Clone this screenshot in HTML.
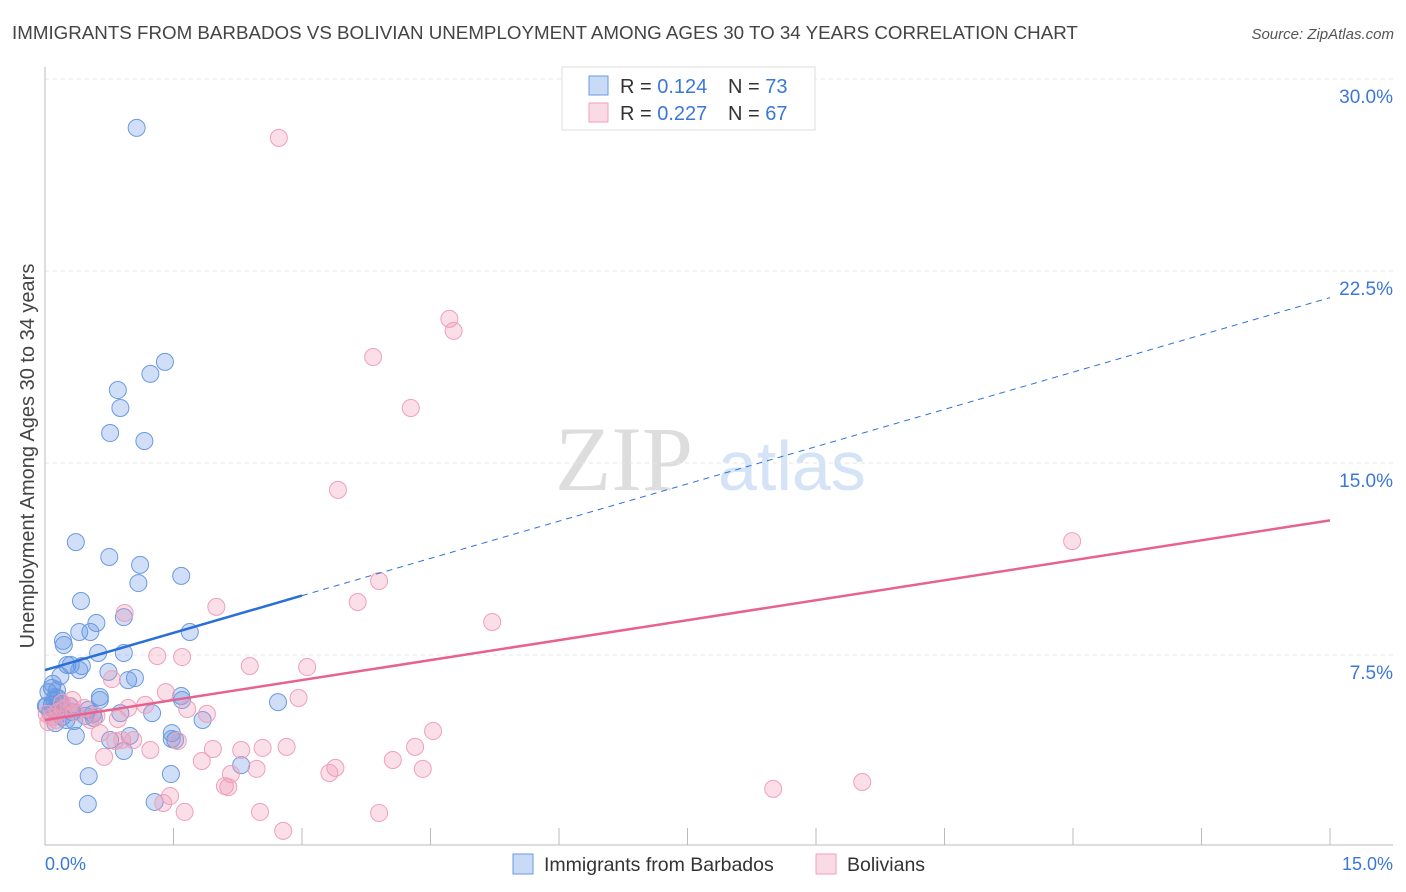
<!DOCTYPE html>
<html><head><meta charset="utf-8"><style>
body{margin:0;background:#fff;font-family:"Liberation Sans",sans-serif;}
svg{display:block}
</style></head><body>
<svg id="chart" width="1406" height="892" viewBox="0 0 1406 892">
<text x="12" y="39" font-size="18.75" fill="#444">IMMIGRANTS FROM BARBADOS VS BOLIVIAN UNEMPLOYMENT AMONG AGES 30 TO 34 YEARS CORRELATION CHART</text>
<text x="1394" y="39" font-size="15" fill="#555" text-anchor="end" font-style="italic">Source: ZipAtlas.com</text>
<g>
<text x="555" y="490" font-size="92" fill="#ddd" font-family="Liberation Serif,serif">ZIP</text>
<text x="718" y="490" font-size="70" fill="#d4e3f5">atlas</text>
</g>
<g id="grid"></g>
<g id="axes"></g>
<g id="marks"></g>
<g id="trends"></g>
<g>
<rect x="562" y="67" width="253" height="63" fill="#fff" stroke="#ddd"/>
<rect x="589" y="76" width="19" height="19" fill="rgba(100,150,230,0.35)" stroke="#6a9ae0"/>
<rect x="589" y="103" width="19" height="19" fill="rgba(240,150,180,0.35)" stroke="#f0a0b8"/>
<text x="620" y="93" font-size="20" fill="#333">R = <tspan fill="#3a78d8">0.124</tspan></text>
<text x="728" y="93" font-size="20" fill="#333">N = <tspan fill="#3a78d8">73</tspan></text>
<text x="620" y="120" font-size="20" fill="#333">R = <tspan fill="#3a78d8">0.227</tspan></text>
<text x="728" y="120" font-size="20" fill="#333">N = <tspan fill="#3a78d8">67</tspan></text>
</g>
<g>
<rect x="513" y="854" width="20" height="20" fill="rgba(100,150,230,0.35)" stroke="#6a9ae0"/>
<text x="544" y="871" font-size="19.5" fill="#333">Immigrants from Barbados</text>
<rect x="816" y="854" width="20" height="20" fill="rgba(240,150,180,0.35)" stroke="#f0a0b8"/>
<text x="847" y="871" font-size="19.5" fill="#333">Bolivians</text>
</g>
</svg>
<script>
const blueX=[1.07,1.40,1.23,0.85,0.88,0.76,1.16,0.36,0.75,1.11,1.59,1.09,0.42,0.92,0.60,0.53,0.40,1.69,0.21,0.22,0.62,0.92,0.26,0.30,0.43,0.40,0.74,0.97,1.05,0.18,0.08,0.09,0.04,0.15,0.11,0.64,1.59,1.60,2.72,0.08,0.18,0.50,0.32,0.88,1.25,0.02,0.12,0.34,0.57,1.84,1.48,0.36,0.76,0.99,1.52,0.92,2.29,0.51,1.47,0.50,1.28,0.06,0.01,0.29,0.20,0.47,0.14,0.12,1.48,0.11,0.25,0.56,0.64];
const blueY=[28.09,18.95,18.48,17.85,17.15,16.17,15.86,11.91,11.33,11.02,10.59,10.31,9.61,8.98,8.75,8.40,8.40,8.40,8.05,7.89,7.58,7.58,7.11,7.11,7.07,6.91,6.84,6.52,6.60,6.68,6.21,6.37,6.05,5.82,5.74,5.86,5.90,5.74,5.66,5.55,5.59,5.35,5.27,5.23,5.23,5.51,4.84,4.92,5.04,4.96,4.45,4.34,4.18,4.34,4.18,3.75,3.20,2.77,2.85,1.68,1.76,5.27,5.51,5.51,5.08,5.12,6.13,5.86,4.22,5.35,4.96,5.20,5.74];
const pinkX=[2.73,4.72,4.77,3.83,4.27,3.42,11.99,3.90,0.93,2.00,3.65,5.22,1.31,1.60,2.39,3.06,0.78,1.41,2.96,1.17,1.66,1.89,0.02,0.20,0.28,0.08,0.53,0.15,0.35,0.97,4.53,0.64,1.55,1.23,0.82,0.90,1.96,2.29,2.54,2.82,4.32,0.69,1.83,3.39,4.06,2.17,2.47,3.32,4.41,2.10,2.14,9.54,8.50,1.46,1.38,2.51,1.63,3.90,2.78,0.13,0.22,0.46,0.60,1.03,0.04,0.85,0.32];
const pinkY=[27.70,20.63,20.16,19.14,17.15,13.95,11.95,10.39,9.14,9.38,9.57,8.79,7.46,7.42,7.07,7.03,6.56,6.05,5.82,5.55,5.39,5.20,5.20,5.63,5.51,5.08,4.96,5.27,5.27,5.43,4.53,4.45,4.14,3.79,4.14,4.18,3.83,3.79,3.87,3.91,3.91,3.52,3.36,3.09,3.40,2.85,3.05,2.89,3.05,2.38,2.34,2.54,2.27,1.99,1.72,1.37,1.37,1.33,0.63,4.96,5.39,5.43,5.12,4.18,4.88,5.00,5.74];
const yTicks=[7.5,15,22.5,30];
const yTickLabels=["7.5%","15.0%","22.5%","30.0%"];
const xTicks=[0,1.5,3,4.5,6,7.5,9,10.5,12,13.5,15];
const blueTrend=[6.91,0.97]; // intercept, slope
const pinkTrend=[4.96,0.52];
const blueSolidEnd=3.0;

const NS="http://www.w3.org/2000/svg";
const X0=45,X1=1330,Y0=847,Y1=79;
const sx=v=>X0+(X1-X0)*v/15;
const sy=v=>Y0-(Y0-Y1)*v/30;
function mk(tag,attrs,parent){const e=document.createElementNS(NS,tag);for(const k in attrs)e.setAttribute(k,attrs[k]);parent.appendChild(e);return e;}
const grid=document.getElementById('grid'),axes=document.getElementById('axes'),marks=document.getElementById('marks'),trends=document.getElementById('trends');
yTicks.forEach((t,i)=>{
  const l=mk('line',{x1:X0,x2:1393,y1:sy(t),y2:sy(t),stroke:'#e6e6e6','stroke-dasharray':'4,4'},grid);
  
  
  const tx=mk('text',{x:1393,y:sy(t)+24,'font-size':19,fill:'#3a78d8','text-anchor':'end'},axes);
  tx.textContent=yTickLabels[i];
  
  
});
const ya=mk('line',{x1:X0,x2:X0,y1:67,y2:845,stroke:'#bbb'},axes);


const xa=mk('line',{x1:X0,x2:1393,y1:845,y2:845,stroke:'#bbb'},axes);


xTicks.forEach(t=>{
  const l=mk('line',{x1:sx(t),x2:sx(t),y1:828,y2:845,stroke:'#bbb'},axes);
  
  
});
const xl0=mk('text',{x:45,y:870,'font-size':18,fill:'#3a78d8'},axes);xl0.textContent='0.0%';


const xl1=mk('text',{x:1393,y:870,'font-size':18,fill:'#3a78d8','text-anchor':'end'},axes);xl1.textContent='15.0%';


const yt=mk('text',{x:0,y:0,'font-size':20,fill:'#444','text-anchor':'middle',transform:'translate(34,456) rotate(-90)'},axes);
yt.textContent='Unemployment Among Ages 30 to 34 years';



blueX.forEach((v,i)=>{
  const c=mk('circle',{cx:sx(v),cy:sy(blueY[i]),r:8.5,fill:'rgba(100,150,230,0.3)',stroke:'#6a9ae0','stroke-width':1},marks);
  
  
});
pinkX.forEach((v,i)=>{
  const c=mk('circle',{cx:sx(v),cy:sy(pinkY[i]),r:8.5,fill:'rgba(240,150,180,0.3)',stroke:'#f0a0b8','stroke-width':1},marks);
  
  
});
const bt=v=>blueTrend[0]+blueTrend[1]*v, pt=v=>pinkTrend[0]+pinkTrend[1]*v;
const b1=mk('line',{x1:sx(0),y1:sy(bt(0)),x2:sx(blueSolidEnd),y2:sy(bt(blueSolidEnd)),stroke:'#2a6fd6','stroke-width':2.5},trends);


const b2=mk('line',{x1:sx(blueSolidEnd),y1:sy(bt(blueSolidEnd)),x2:sx(15),y2:sy(bt(15)),stroke:'#2a6fd6','stroke-width':1,'stroke-dasharray':'6,5'},trends);


const p1=mk('line',{x1:sx(0),y1:sy(pt(0)),x2:sx(15),y2:sy(pt(15)),stroke:'#e8628e','stroke-width':2.5},trends);


</script>
</body></html>
